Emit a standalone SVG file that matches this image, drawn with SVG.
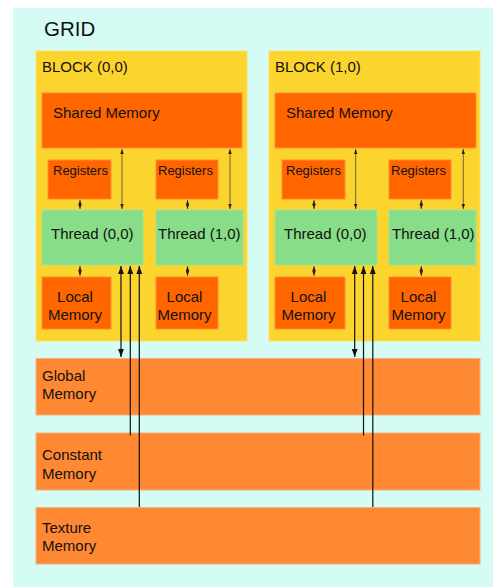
<svg xmlns="http://www.w3.org/2000/svg" width="493" height="587" viewBox="0 0 493 587">
<defs>
<style>
text{font-family:"Liberation Sans",Arial,sans-serif;fill:#111}
.grid{fill:#D4FCF4}
.block{fill:#FCD42E;stroke:#FFE066;stroke-width:1}
.shared{fill:#FF6600;stroke:#FF8A3A;stroke-width:1}
.thread{fill:#88DD88;stroke:#9BE49B;stroke-width:1}
.mem{fill:#FF8833;stroke:#F5B080;stroke-width:1}
.t15{font-size:15px}
.t13{font-size:13px}
.thin{stroke:#333;stroke-width:0.7;fill:none}
.thick{stroke:#111;stroke-width:1.2;fill:none}
</style>
<marker id="sa" viewBox="0 0 5 4" refX="5" refY="2" markerWidth="5" markerHeight="4" markerUnits="userSpaceOnUse" orient="auto-start-reverse"><path d="M0,0.3 L5,2 L0,3.7 Z" fill="#222"/></marker>
<marker id="la" viewBox="0 0 8 7" refX="8" refY="3.5" markerWidth="8" markerHeight="7" markerUnits="userSpaceOnUse" orient="auto-start-reverse"><path d="M0,0.6 L8,3.5 L0,6.4 Z" fill="#111"/></marker>
</defs>
<rect class="grid" x="13" y="8" width="480" height="579"/>
<text x="44" y="36" style="font-size:20.5px">GRID</text>

<g id="block0">
<rect class="block" x="36" y="51" width="211" height="290"/>
<text class="t15" x="42" y="72">BLOCK (0,0)</text>
</g>
<g id="shared0"><rect class="shared" x="42" y="93" width="200" height="55"/><text class="t15" x="53" y="118">Shared Memory</text></g>
<g id="reg00"><rect class="shared" x="48" y="160" width="63" height="39"/><text class="t13" x="53" y="175">Registers</text></g>
<g id="reg01"><rect class="shared" x="156" y="160" width="62" height="39"/><text class="t13" x="158" y="175">Registers</text></g>
<g id="thr00"><rect class="thread" x="42" y="210" width="101" height="55"/><text class="t15" x="51" y="239">Thread (0,0)</text></g>
<g id="thr01"><rect class="thread" x="156" y="210" width="87" height="55"/><text class="t15" x="158" y="239">Thread (1,0)</text></g>
<g id="loc00"><rect class="shared" x="42" y="277" width="69" height="52"/><text class="t15" x="75" y="302" text-anchor="middle">Local</text><text class="t15" x="75" y="320" text-anchor="middle">Memory</text></g>
<g id="loc01"><rect class="shared" x="156" y="277" width="62" height="52"/><text class="t15" x="184.5" y="302" text-anchor="middle">Local</text><text class="t15" x="184.5" y="320" text-anchor="middle">Memory</text></g>

<g id="block1">
<rect class="block" x="269" y="51" width="211" height="290"/>
<text class="t15" x="275" y="72">BLOCK (1,0)</text>
</g>
<g id="shared1"><rect class="shared" x="275" y="93" width="201" height="55"/><text class="t15" x="286" y="118">Shared Memory</text></g>
<g id="reg10"><rect class="shared" x="282" y="160" width="63" height="39"/><text class="t13" x="286" y="175">Registers</text></g>
<g id="reg11"><rect class="shared" x="389" y="160" width="62" height="39"/><text class="t13" x="391" y="175">Registers</text></g>
<g id="thr10"><rect class="thread" x="275" y="210" width="102" height="55"/><text class="t15" x="284" y="239">Thread (0,0)</text></g>
<g id="thr11"><rect class="thread" x="389" y="210" width="87" height="55"/><text class="t15" x="392" y="239">Thread (1,0)</text></g>
<g id="loc10"><rect class="shared" x="275" y="277" width="70" height="52"/><text class="t15" x="308.5" y="302" text-anchor="middle">Local</text><text class="t15" x="308.5" y="320" text-anchor="middle">Memory</text></g>
<g id="loc11"><rect class="shared" x="389" y="277" width="62" height="52"/><text class="t15" x="418.5" y="302" text-anchor="middle">Local</text><text class="t15" x="418.5" y="320" text-anchor="middle">Memory</text></g>

<g id="global"><rect class="mem" x="36" y="358.5" width="444" height="56.5"/><text class="t15" x="42" y="381">Global</text><text class="t15" x="42" y="399">Memory</text></g>
<g id="constant"><rect class="mem" x="36" y="433" width="444" height="57"/><text class="t15" x="42" y="460">Constant</text><text class="t15" x="42" y="478.5">Memory</text></g>
<g id="texture"><rect class="mem" x="36" y="507.5" width="444" height="56.5"/><text class="t15" x="42" y="533">Texture</text><text class="t15" x="42" y="551">Memory</text></g>

<g id="connectors">
<line class="thin" x1="122" y1="149" x2="122" y2="209" marker-start="url(#sa)" marker-end="url(#sa)"/>
<line class="thin" x1="230" y1="149" x2="230" y2="209" marker-start="url(#sa)" marker-end="url(#sa)"/>
<line class="thin" x1="80" y1="200" x2="80" y2="209" marker-start="url(#sa)" marker-end="url(#sa)"/>
<line class="thin" x1="187.5" y1="200" x2="187.5" y2="209" marker-start="url(#sa)" marker-end="url(#sa)"/>
<line class="thin" x1="80" y1="266" x2="80" y2="276" marker-start="url(#sa)" marker-end="url(#sa)"/>
<line class="thin" x1="187.5" y1="266" x2="187.5" y2="276" marker-start="url(#sa)" marker-end="url(#sa)"/>
<line class="thick" x1="121" y1="266" x2="121" y2="357" marker-start="url(#la)" marker-end="url(#la)"/>
<line class="thick" x1="130.3" y1="266" x2="130.3" y2="435.5" marker-start="url(#la)"/>
<line class="thick" x1="139.3" y1="266" x2="139.3" y2="507" marker-start="url(#la)"/>

<line class="thin" x1="355.7" y1="149" x2="355.7" y2="209" marker-start="url(#sa)" marker-end="url(#sa)"/>
<line class="thin" x1="463.3" y1="149" x2="463.3" y2="209" marker-start="url(#sa)" marker-end="url(#sa)"/>
<line class="thin" x1="314" y1="200" x2="314" y2="209" marker-start="url(#sa)" marker-end="url(#sa)"/>
<line class="thin" x1="421.3" y1="200" x2="421.3" y2="209" marker-start="url(#sa)" marker-end="url(#sa)"/>
<line class="thin" x1="314" y1="266" x2="314" y2="276" marker-start="url(#sa)" marker-end="url(#sa)"/>
<line class="thin" x1="421.3" y1="266" x2="421.3" y2="276" marker-start="url(#sa)" marker-end="url(#sa)"/>
<line class="thick" x1="354.7" y1="266" x2="354.7" y2="357" marker-start="url(#la)" marker-end="url(#la)"/>
<line class="thick" x1="363.5" y1="266" x2="363.5" y2="435.5" marker-start="url(#la)"/>
<line class="thick" x1="372.8" y1="266" x2="372.8" y2="507" marker-start="url(#la)"/>
</g>
</svg>
